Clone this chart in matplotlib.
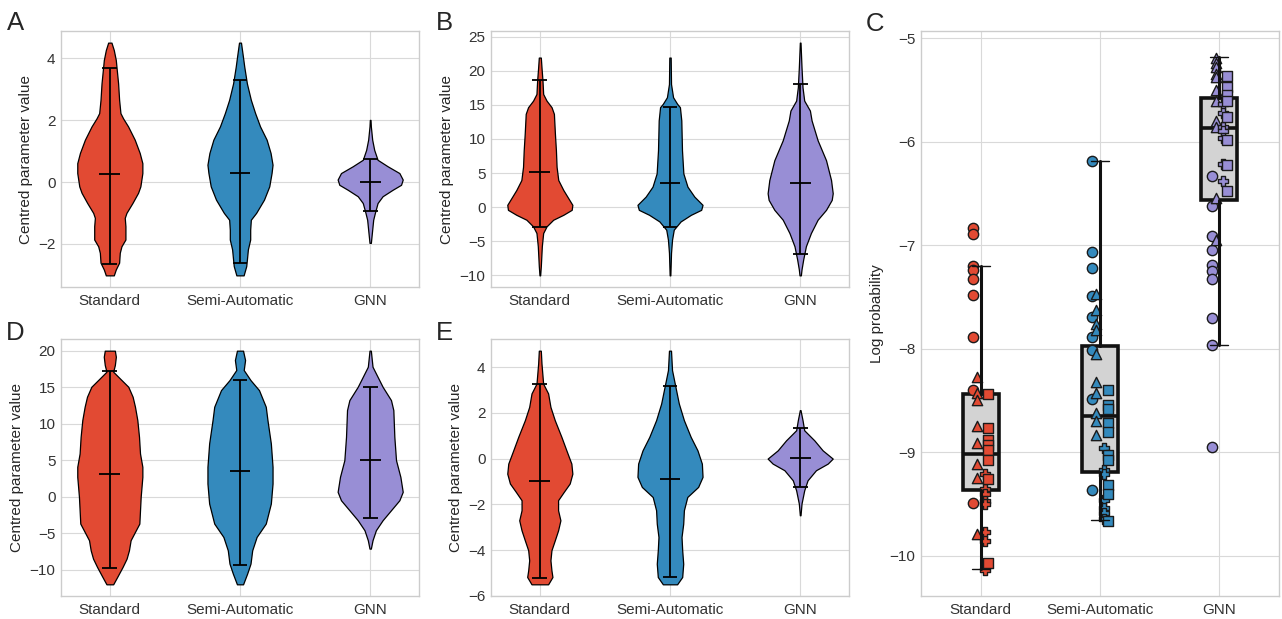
import numpy as np
import matplotlib
matplotlib.use("Agg")
import matplotlib.pyplot as plt

plt.style.use("seaborn-v0_8-whitegrid")
plt.rcParams["font.family"] = ["Liberation Sans", "DejaVu Sans"]
plt.rcParams.update({
    "xtick.labelsize": 11, "ytick.labelsize": 11, "axes.labelsize": 11,
    "axes.edgecolor": "#cccccc", "grid.color": "#d9d9d9",
    "xtick.color": "#333333", "ytick.color": "#333333", "axes.labelcolor": "#262626",
    "xtick.major.pad": 5.0, "ytick.major.pad": 4.0,
})

methods = ["Standard", "Semi-Automatic", "GNN"]
colors = ["#E24A33", "#348ABD", "#988ED5"]

# ---------------- violin profiles (y value, relative half-width) ----------------
# Panel A
A_std_y = [-3.02, -2.83, -2.61, -2.29, -2.08, -1.86, -1.43, -1.16, -1.00, -0.68, -0.35, -0.14,
           0.29, 0.61, 0.94, 1.37, 1.80, 2.06, 2.23, 2.66, 3.19, 3.73, 3.95, 4.27, 4.51]
A_std_w = [12, 18, 28, 30, 35, 47, 47, 45, 50, 68, 85, 92, 98, 98, 90, 75, 55, 40, 32, 28, 25, 20, 18, 12, 5]
A_semi_y = [-3.02, -2.72, -2.51, -2.18, -1.86, -1.54, -1.22, -1.00, -0.57, -0.14, 0.29, 0.56,
            0.94, 1.37, 1.80, 2.23, 2.66, 3.19, 3.73, 4.05, 4.51]
A_semi_w = [11, 19, 21, 24, 31, 31, 33, 49, 73, 89, 96, 99, 93, 81, 61, 46, 33, 21, 13, 9, 3]
A_gnn_y = [-1.97, -1.65, -1.22, -1.00, -0.68, -0.46, -0.25, -0.09, 0.08, 0.29, 0.51, 0.72,
           1.04, 1.37, 1.80, 2.01]
A_gnn_w = [2, 5, 9, 14, 22, 37, 67, 92, 97, 87, 52, 22, 12, 6, 2, 1]
A_top = [3.70, 3.30, 0.75]
A_mean = [0.25, 0.30, 0.00]
A_bottom = [-2.65, -2.63, -0.95]

# Panel B
B_std_y = [-10.0, -8.64, -5.73, -3.79, -2.82, -1.84, -1.12, -0.39, 0.34, 1.31, 2.52, 3.98,
           5.92, 8.35, 10.78, 13.69, 14.66, 15.63, 16.60, 18.54, 20.49, 21.94]
B_std_w = [1, 3, 6, 10, 20, 40, 70, 95, 97, 85, 70, 55, 50, 48, 45, 42, 35, 20, 10, 8, 5, 3]
B_semi_y = [-10.0, -6.70, -4.76, -3.30, -2.09, -1.12, -0.39, 0.34, 1.55, 3.01, 4.95, 8.35,
            12.72, 14.66, 15.15, 16.12, 18.06, 21.94]
B_semi_w = [1, 3, 6, 11, 31, 61, 91, 95, 71, 51, 39, 35, 33, 29, 21, 9, 3, 2]
B_gnn_y = [-10.0, -9.13, -7.67, -5.73, -3.79, -1.84, -0.39, 1.07, 2.04, 3.98, 6.89, 9.81,
           12.72, 14.17, 15.63, 17.57, 20.49, 24.13]
B_gnn_w = [2, 4, 9, 17, 32, 52, 77, 94, 97, 92, 77, 52, 34, 29, 12, 7, 4, 1]
B_top = [18.6, 14.7, 18.0]
B_mean = [5.1, 3.5, 3.6]
B_bottom = [-2.9, -2.95, -6.85]

# Panel D
D_std_y = [-11.98, -10.97, -9.60, -8.46, -7.32, -5.94, -4.80, -3.66, -1.83, 0.0, 2.74, 4.12,
           5.94, 8.23, 10.52, 12.35, 13.72, 15.09, 16.23, 17.15, 18.06, 19.20, 20.03]
D_std_w = [10, 22, 38, 50, 57, 62, 75, 88, 90, 92, 97, 97, 90, 87, 82, 75, 68, 55, 30, 10, 15, 18, 15]
D_semi_y = [-11.98, -10.52, -9.14, -7.32, -5.49, -3.66, -0.91, 1.83, 4.12, 7.32, 10.52, 12.35,
            14.63, 16.0, 17.38, 18.75, 20.03]
D_semi_w = [9, 21, 31, 36, 49, 76, 91, 96, 96, 91, 81, 76, 56, 31, 11, 15, 9]
D_gnn_y = [-7.09, -5.94, -4.57, -3.20, -1.83, -0.46, 0.69, 2.74, 5.03, 8.23, 11.89, 13.26,
           15.09, 16.46, 17.83, 20.03]
D_gnn_w = [2, 7, 17, 37, 62, 87, 97, 90, 77, 72, 69, 62, 37, 22, 7, 2]
D_top = [17.3, 16.0, 15.0]
D_mean = [3.2, 3.6, 5.1]
D_bottom = [-9.7, -9.4, -2.9]

# Panel E
E_std_y = [-5.50, -5.18, -4.89, -4.45, -4.01, -3.58, -3.14, -2.70, -2.26, -1.82, -1.46, -1.09,
           -0.66, -0.22, 0.36, 0.95, 1.68, 2.26, 2.85, 3.28, 4.16, 4.72]
E_std_w = [25, 38, 35, 32, 35, 45, 55, 62, 55, 55, 72, 90, 98, 95, 80, 65, 45, 32, 25, 10, 5, 3]
E_semi_y = [-5.50, -5.18, -4.60, -4.01, -3.43, -2.85, -2.26, -1.68, -1.24, -0.80, -0.22, 0.36,
            0.95, 1.68, 2.41, 3.14, 3.87, 4.72]
E_semi_w = [21, 36, 39, 36, 34, 39, 41, 51, 83, 96, 94, 81, 61, 41, 26, 16, 6, 3]
E_gnn_y = [-2.48, -1.97, -1.39, -0.95, -0.51, -0.22, 0.0, 0.36, 0.80, 1.24, 1.68, 2.12]
E_gnn_w = [1, 4, 12, 22, 47, 82, 97, 67, 42, 12, 7, 1]
E_top = [3.27, 3.18, 1.34]
E_mean = [-0.98, -0.89, 0.02]
E_bottom = [-5.21, -5.17, -1.26]

# ---------------- Panel C: log probabilities ----------------
std_circle = [-6.83, -6.89, -7.20, -7.24, -7.33, -7.48, -7.89, -8.40, -9.49]
std_triangle = [-8.27, -8.43, -8.50, -8.75, -8.91, -9.11, -9.25, -9.79]
std_plus = [-9.21, -9.35, -9.40, -9.47, -9.50, -9.77, -9.86, -10.14]
std_square = [-8.44, -8.77, -8.88, -8.93, -8.98, -9.07, -9.26, -10.07]

semi_circle = [-6.185, -7.07, -7.22, -7.49, -7.69, -7.89, -8.01, -8.49, -9.36]
semi_triangle = [-7.47, -7.63, -7.76, -7.82, -8.05, -8.32, -8.43, -8.62, -8.70, -8.83]
semi_plus = [-8.96, -9.17, -9.21, -9.46, -9.54, -9.59, -9.64]
semi_square = [-8.40, -8.54, -8.58, -8.72, -8.80, -9.03, -9.07, -9.32, -9.40, -9.66]

gnn_circle = [-6.33, -6.62, -6.91, -7.05, -7.19, -7.25, -7.33, -7.70, -7.96, -8.95]
gnn_triangle = [-5.19, -5.24, -5.28, -5.35, -5.38, -5.50, -5.61, -5.80, -5.86, -6.54, -6.95]
gnn_plus = [-5.64, -5.72, -5.86, -5.90, -5.97, -6.22, -6.38]
gnn_square = [-5.37, -5.47, -5.55, -5.61, -5.76, -5.98, -6.23, -6.48]

box_q1 = [-9.36, -9.19, -6.56]
box_med = [-9.02, -8.65, -5.87]
box_q3 = [-8.44, -7.97, -5.58]
box_lo = [-10.13, -9.65, -7.96]
box_hi = [-7.20, -6.185, -5.18]

# ---------------- figure ----------------
W, H = 1282, 619
fig = plt.figure(figsize=(W / 100, H / 100), dpi=100)


def px_axes(x0, y0, x1, y1):
    return fig.add_axes([x0 / W, 1 - y1 / H, (x1 - x0) / W, (y1 - y0) / H])


def draw_violins(ax, ys, ws, tops, means, bottoms):
    pos = np.array([1, 2, 3])
    stats = []
    for y, w, t, m, b in zip(ys, ws, tops, means, bottoms):
        stats.append(dict(coords=np.array(y, float), vals=np.array(w, float),
                          mean=m, median=m, min=b, max=t))
    parts = ax.violin(stats, positions=pos, widths=0.5, showmeans=False,
                      showextrema=False, showmedians=False)
    for body, c in zip(parts["bodies"], colors):
        body.set_facecolor(c)
        body.set_edgecolor("black")
        body.set_linewidth(0.9)
        body.set_alpha(1)
    ax.vlines(pos, bottoms, tops, color="black", lw=1.3, zorder=3)
    ax.hlines(tops, pos - 0.057, pos + 0.057, color="black", lw=1.3, zorder=3)
    ax.hlines(bottoms, pos - 0.057, pos + 0.057, color="black", lw=1.3, zorder=3)
    ax.hlines(means, pos - 0.08, pos + 0.08, color="black", lw=1.3, zorder=3)
    ax.set_xticks(pos)
    ax.set_xticklabels(methods)
    ax.set_ylabel("Centred parameter value")


axA = px_axes(61, 31, 419, 287)
draw_violins(axA, [A_std_y, A_semi_y, A_gnn_y], [A_std_w, A_semi_w, A_gnn_w], A_top, A_mean, A_bottom)
axB = px_axes(491, 31, 849, 287)
draw_violins(axB, [B_std_y, B_semi_y, B_gnn_y], [B_std_w, B_semi_w, B_gnn_w], B_top, B_mean, B_bottom)
axD = px_axes(61, 339, 419, 596)
draw_violins(axD, [D_std_y, D_semi_y, D_gnn_y], [D_std_w, D_semi_w, D_gnn_w], D_top, D_mean, D_bottom)
axE = px_axes(491, 339, 849, 596)
draw_violins(axE, [E_std_y, E_semi_y, E_gnn_y], [E_std_w, E_semi_w, E_gnn_w], E_top, E_mean, E_bottom)

# Panel C
axC = px_axes(921, 31, 1279, 596)
bstats = []
for i in range(3):
    bstats.append(dict(med=box_med[i], q1=box_q1[i], q3=box_q3[i],
                       whislo=box_lo[i], whishi=box_hi[i], fliers=[]))
bp = axC.bxp(bstats, positions=[0, 1, 2], widths=0.3, patch_artist=True, showfliers=False,
             boxprops=dict(facecolor="#d3d3d3", edgecolor="#111111", linewidth=2.6),
             whiskerprops=dict(color="#111111", linewidth=2.2),
             capprops=dict(color="#111111", linewidth=1.0),
             medianprops=dict(color="#111111", linewidth=2.6),
             manage_ticks=False)
for art in bp["whiskers"] + bp["caps"]:
    art.set_zorder(4)

groups = [
    [std_circle, std_triangle, std_plus, std_square],
    [semi_circle, semi_triangle, semi_plus, semi_square],
    [gnn_circle, gnn_triangle, gnn_plus, gnn_square],
]
markers = ["o", "^", "P", "s"]
offsets = [-0.064, -0.031, 0.033, 0.064]
for i, grp in enumerate(groups):
    for vals, mk, off in zip(grp, markers, offsets):
        axC.scatter(np.full(len(vals), i + off), vals, marker=mk, s=55, color=colors[i],
                    edgecolors="#1a1a1a", linewidths=1.0, zorder=3)

axC.set_xlim(-0.5, 2.5)
axC.set_xticks([0, 1, 2])
axC.set_xticklabels(methods)
axC.set_ylabel("Log probability")

for ax in [axA, axB, axC, axD, axE]:
    ax.tick_params(length=0)

# Panel letters
for letter, x, y in [("A", 7, 30.5), ("B", 436, 30.5), ("C", 866, 31), ("D", 6, 339.5), ("E", 436, 339.5)]:
    fig.text(x / W, 1 - y / H, letter, fontsize=18.5, color="#262626", ha="left", va="baseline")

fig.savefig("out.png", dpi=100)
